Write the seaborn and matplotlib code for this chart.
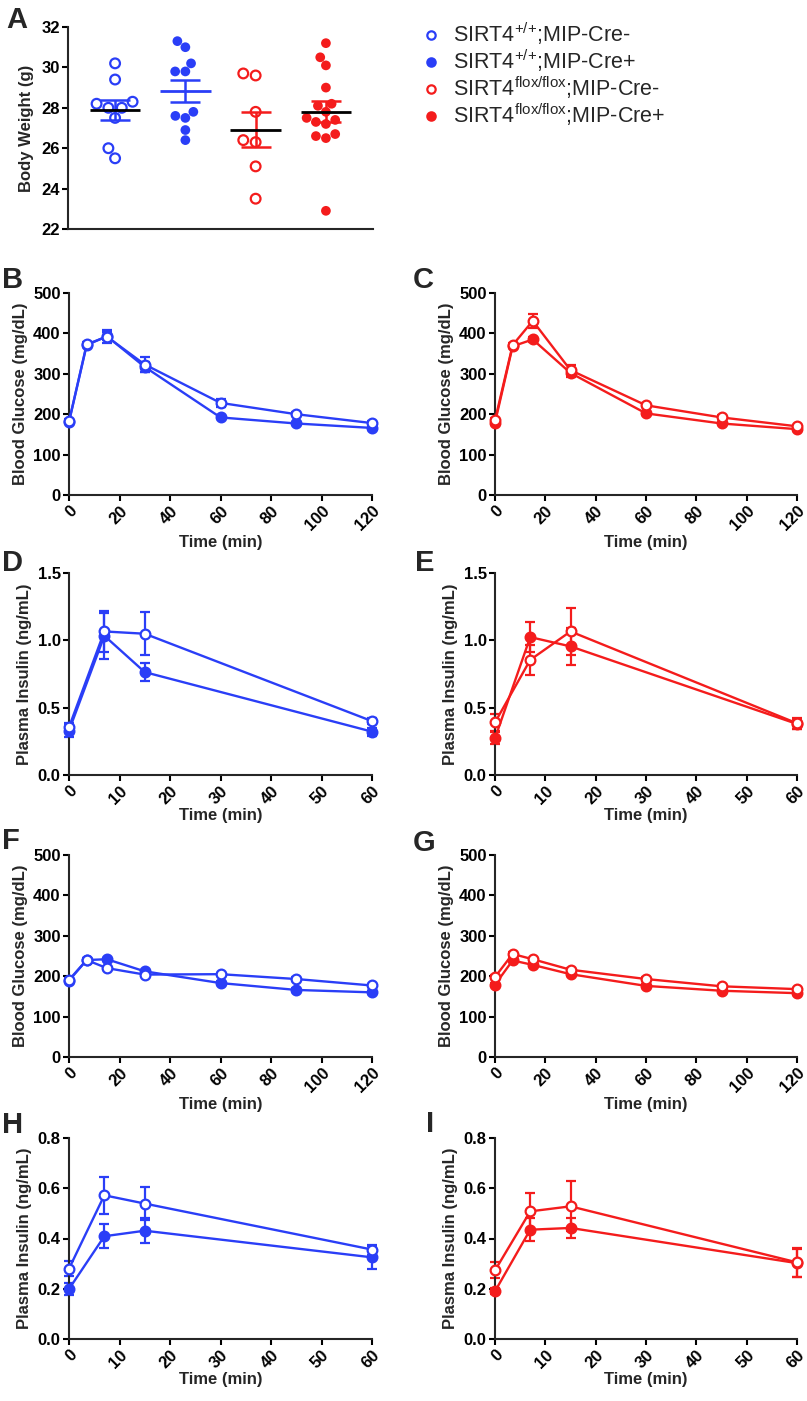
import numpy as np
import pandas as pd
import matplotlib
matplotlib.use('Agg')
import matplotlib.pyplot as plt
import seaborn as sns
from matplotlib.lines import Line2D
from matplotlib.ticker import FormatStrFormatter

BLUE = '#2a3ef7'
RED = '#f41c1c'

# Panel A - body weight (g)
groups = ['wt_neg', 'wt_pos', 'fl_neg', 'fl_pos']
bw_wt_neg = [28.3, 30.2, 29.4, 28.0, 28.2, 28.0, 27.5, 26.0, 25.5]
bw_wt_pos = [31.3, 31.0, 30.2, 29.8, 29.8, 27.8, 27.5, 27.6, 26.9, 26.4]
bw_fl_neg = [29.7, 29.6, 27.8, 26.3, 26.4, 25.1, 23.5]
bw_fl_pos = [31.2, 30.5, 30.1, 29.0, 27.4, 27.8, 28.1, 28.2, 27.2, 27.3,
             27.5, 26.7, 26.5, 26.6, 22.9]

legend_labels = [r'SIRT4$^{{+}/{+}}$;MIP-Cre-', r'SIRT4$^{{+}/{+}}$;MIP-Cre+',
                 r'SIRT4$^{flox/flox}$;MIP-Cre-', r'SIRT4$^{flox/flox}$;MIP-Cre+']

# time courses
t_gtt = [0, 7, 15, 30, 60, 90, 120]
t_ins = [0, 7, 15, 60]

gtt_b_neg = [182, 373, 392, 323, 228, 200, 178]
gtt_b_neg_sem = [5, 6, 16, 18, 9, 5, 5]
gtt_b_pos = [181, 371, 393, 317, 192, 177, 166]
gtt_b_pos_sem = [4, 5, 10, 12, 5, 4, 4]

gtt_c_neg = [185, 371, 431, 309, 222, 192, 170]
gtt_c_neg_sem = [6, 6, 17, 12, 5, 5, 4]
gtt_c_pos = [179, 368, 385, 302, 202, 177, 163]
gtt_c_pos_sem = [5, 5, 6, 9, 4, 4, 4]

ins_d_neg = [0.355, 1.066, 1.049, 0.40]
ins_d_neg_sem = [0.03, 0.155, 0.16, 0.02]
ins_d_pos = [0.33, 1.034, 0.764, 0.322]
ins_d_pos_sem = [0.05, 0.17, 0.068, 0.03]

ins_e_neg = [0.39, 0.855, 1.066, 0.384]
ins_e_neg_sem = [0.065, 0.11, 0.175, 0.04]
ins_e_pos = [0.273, 1.024, 0.955, 0.379]
ins_e_pos_sem = [0.045, 0.11, 0.14, 0.04]

gtt_f_neg = [191, 240, 220, 204, 205, 193, 177]
gtt_f_neg_sem = [4, 5, 4, 4, 4, 4, 4]
gtt_f_pos = [189, 240, 242, 212, 183, 166, 160]
gtt_f_pos_sem = [4, 5, 4, 4, 4, 4, 4]

gtt_g_neg = [198, 255, 242, 216, 193, 175, 168]
gtt_g_neg_sem = [5, 5, 4, 4, 4, 4, 4]
gtt_g_pos = [179, 239, 228, 205, 176, 164, 158]
gtt_g_pos_sem = [4, 5, 4, 4, 4, 4, 4]

ins_h_neg = [0.28, 0.572, 0.539, 0.356]
ins_h_neg_sem = [0.03, 0.074, 0.065, 0.02]
ins_h_pos = [0.199, 0.409, 0.431, 0.325]
ins_h_pos_sem = [0.025, 0.047, 0.05, 0.046]

ins_i_neg = [0.273, 0.508, 0.528, 0.305]
ins_i_neg_sem = [0.032, 0.075, 0.1, 0.057]
ins_i_pos = [0.19, 0.435, 0.442, 0.302]
ins_i_pos_sem = [0.012, 0.045, 0.04, 0.055]

sns.set_style('ticks')
plt.rcParams['font.family'] = ['Liberation Sans', 'DejaVu Sans']
plt.rcParams['mathtext.default'] = 'regular'
plt.rcParams['axes.linewidth'] = 1.5

W, H = 807, 1401
fig = plt.figure(figsize=(W / 100, H / 100), dpi=100)


def make_axes(l, r, t, b):
    return fig.add_axes([l / W, 1 - b / H, (r - l) / W, (b - t) / H])


def style_axes(ax):
    sns.despine(ax=ax)
    ax.tick_params(width=1.5, length=4, labelsize=12, colors='black', pad=2)
    for lab in ax.get_xticklabels() + ax.get_yticklabels():
        lab.set_fontweight('bold')


# ---- Panel A ----
axA = make_axes(68, 373, 27, 229)
df = pd.DataFrame({
    'group': np.repeat(groups, [len(bw_wt_neg), len(bw_wt_pos), len(bw_fl_neg), len(bw_fl_pos)]),
    'weight': bw_wt_neg + bw_wt_pos + bw_fl_neg + bw_fl_pos,
})
colors = [BLUE, BLUE, RED, RED]
sns.swarmplot(data=df, x='group', y='weight', hue='group', order=groups,
              palette=colors, size=7, legend=False, ax=axA)
for i, coll in enumerate(axA.collections[:4]):
    coll.set_edgecolor(colors[i])
    if i in (0, 2):
        coll.set_facecolor('none')
        coll.set_linewidth(1.6)
    else:
        coll.set_linewidth(0)

mean_colors = ['black', BLUE, 'black', 'black']
for i, vals in enumerate([bw_wt_neg, bw_wt_pos, bw_fl_neg, bw_fl_pos]):
    m = np.mean(vals)
    se = np.std(vals, ddof=1) / np.sqrt(len(vals))
    axA.errorbar(i, m, yerr=se, fmt='none', ecolor=colors[i], capsize=11,
                 elinewidth=1.8, capthick=1.8, zorder=4)
    axA.hlines(m, i - 0.36, i + 0.36, color=mean_colors[i], linewidth=2, zorder=5)

axA.set_xlim(-0.67, 3.67)
axA.set_ylim(22, 32)
axA.set_yticks(range(22, 33, 2))
axA.set_xticks([])
axA.set_xlabel('')
axA.set_ylabel('Body Weight (g)', fontsize=12, fontweight='bold', labelpad=5)
style_axes(axA)

handles = []
for i, c in enumerate(colors):
    handles.append(Line2D([], [], linestyle='none', marker='o', markersize=6,
                          markerfacecolor='white' if i in (0, 2) else c,
                          markeredgecolor=c, markeredgewidth=1.6))
fig.legend(handles, legend_labels, loc='upper left', bbox_to_anchor=(412 / W, 1 - 12 / H),
           frameon=False, fontsize=15.5, handletextpad=0.5, labelspacing=0.02,
           handlelength=1.0, borderaxespad=0)


# ---- time course panels ----
def draw_course(ax, t, neg, neg_sem, pos, pos_sem, color, xmax, xstep, ymax, ystep,
                ylabel, fmt):
    for vals, sem, face in [(pos, pos_sem, color), (neg, neg_sem, 'white')]:
        ax.errorbar(t, vals, yerr=sem, fmt='none', ecolor=color, capsize=3.5,
                    elinewidth=1.6, capthick=1.6, clip_on=False, zorder=2)
        sns.lineplot(x=t, y=vals, ax=ax, color=color, linewidth=1.7, marker='o',
                     markersize=7, markerfacecolor=face, markeredgecolor=color,
                     markeredgewidth=1.6, clip_on=False, zorder=3)
    ax.set_xlim(0, xmax)
    ax.set_ylim(0, ymax)
    ax.set_xticks(np.arange(0, xmax + 1, xstep))
    ax.set_yticks(np.arange(0, ymax + ystep / 2, ystep))
    ax.yaxis.set_major_formatter(FormatStrFormatter(fmt))
    ax.set_xlabel('Time (min)', fontsize=12, fontweight='bold', labelpad=1)
    ax.set_ylabel(ylabel, fontsize=12, fontweight='bold', labelpad=4)
    style_axes(ax)
    for lab in ax.get_xticklabels():
        lab.set_rotation(45)
        lab.set_ha('right')
        lab.set_rotation_mode('anchor')


L_COL = (69, 372)
R_COL = (495, 797)

axB = make_axes(*L_COL, 293, 495)
draw_course(axB, t_gtt, gtt_b_neg, gtt_b_neg_sem, gtt_b_pos, gtt_b_pos_sem, BLUE,
            120, 20, 500, 100, 'Blood Glucose (mg/dL)', '%d')
axC = make_axes(*R_COL, 293, 495)
draw_course(axC, t_gtt, gtt_c_neg, gtt_c_neg_sem, gtt_c_pos, gtt_c_pos_sem, RED,
            120, 20, 500, 100, 'Blood Glucose (mg/dL)', '%d')
axD = make_axes(*L_COL, 573, 775)
draw_course(axD, t_ins, ins_d_neg, ins_d_neg_sem, ins_d_pos, ins_d_pos_sem, BLUE,
            60, 10, 1.5, 0.5, 'Plasma Insulin (ng/mL)', '%.1f')
axE = make_axes(*R_COL, 573, 775)
draw_course(axE, t_ins, ins_e_neg, ins_e_neg_sem, ins_e_pos, ins_e_pos_sem, RED,
            60, 10, 1.5, 0.5, 'Plasma Insulin (ng/mL)', '%.1f')
axF = make_axes(*L_COL, 855, 1057)
draw_course(axF, t_gtt, gtt_f_neg, gtt_f_neg_sem, gtt_f_pos, gtt_f_pos_sem, BLUE,
            120, 20, 500, 100, 'Blood Glucose (mg/dL)', '%d')
axG = make_axes(*R_COL, 855, 1057)
draw_course(axG, t_gtt, gtt_g_neg, gtt_g_neg_sem, gtt_g_pos, gtt_g_pos_sem, RED,
            120, 20, 500, 100, 'Blood Glucose (mg/dL)', '%d')
axH = make_axes(*L_COL, 1138, 1339)
draw_course(axH, t_ins, ins_h_neg, ins_h_neg_sem, ins_h_pos, ins_h_pos_sem, BLUE,
            60, 10, 0.8, 0.2, 'Plasma Insulin (ng/mL)', '%.1f')
axI = make_axes(*R_COL, 1138, 1339)
draw_course(axI, t_ins, ins_i_neg, ins_i_neg_sem, ins_i_pos, ins_i_pos_sem, RED,
            60, 10, 0.8, 0.2, 'Plasma Insulin (ng/mL)', '%.1f')

# panel letters
letters = [('A', 6, 6), ('B', 2, 266), ('C', 413, 266), ('D', 2, 549), ('E', 415, 549),
           ('F', 2, 827), ('G', 413, 829), ('H', 2, 1111), ('I', 426, 1110)]
for s, x, y in letters:
    fig.text(x / W, 1 - y / H, s, fontsize=21, fontweight='bold', va='top', ha='left')

fig.savefig('out.png', dpi=100)
